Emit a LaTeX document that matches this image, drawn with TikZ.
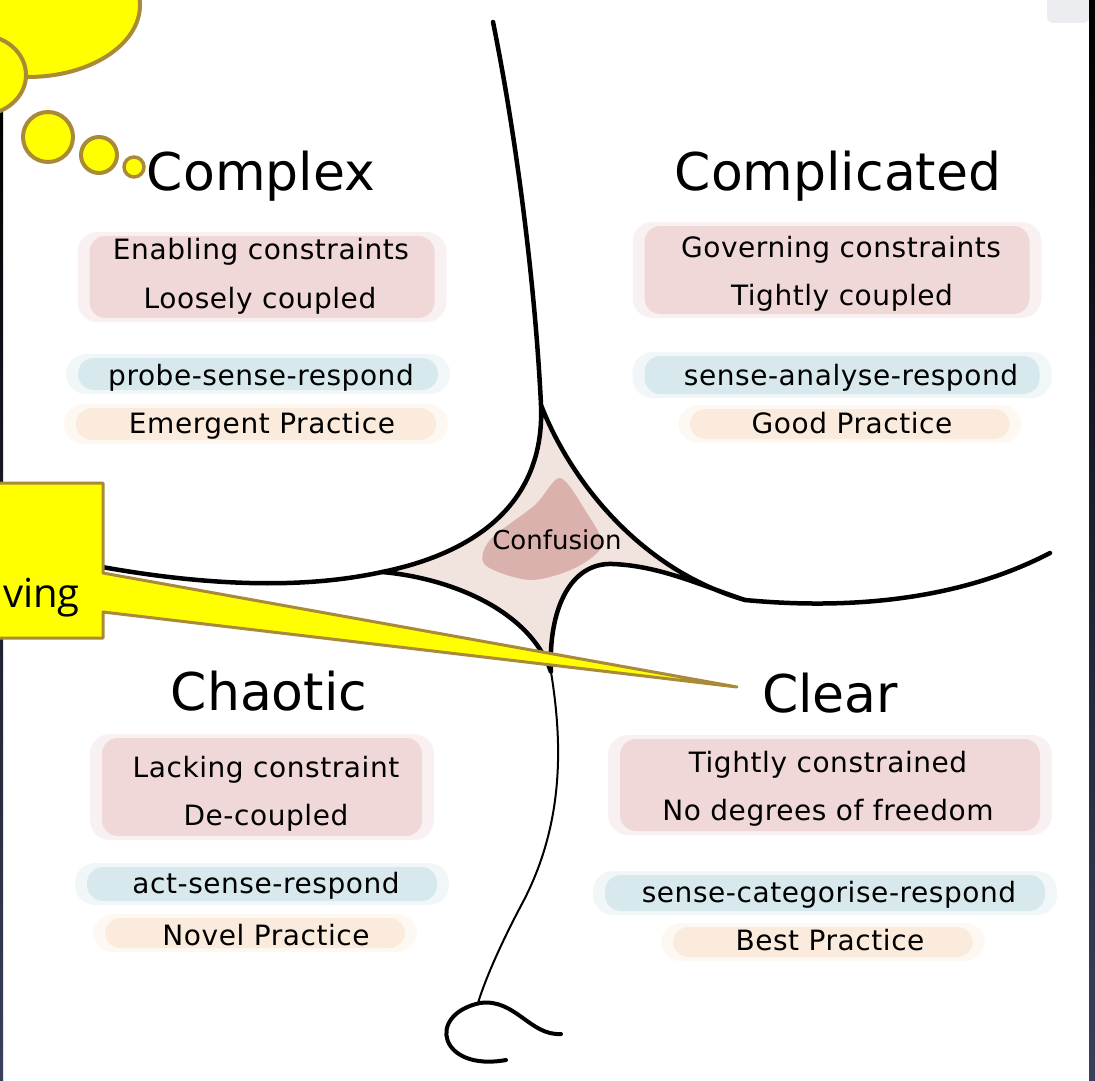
\documentclass[tikz,border=0pt]{standalone}
\usepackage{fontspec}
\setmainfont{DejaVu Sans}
\newfontfamily\washfont[LetterSpace=2]{DejaVu Sans}
\newfontfamily\calloutfont{Open Sans}
\usepackage{tikz}
\usetikzlibrary{calc}
\definecolor{bubbleyellow}{HTML}{FFFF00}
\definecolor{bubblegold}{HTML}{A88A38}
\definecolor{washpink}{HTML}{F0D8D8}
\definecolor{washblue}{HTML}{D7E9ED}
\definecolor{washpeach}{HTML}{FBEBDC}
\definecolor{fogbeige}{HTML}{F1E4DE}
\definecolor{fogrose}{HTML}{DBB1AE}
\definecolor{edgenavy}{HTML}{3B3F5C}
\definecolor{panelgray}{HTML}{ECEDF0}
\def\wash[#1](#2)(#3:#4){\fill[#1, opacity=0.35, rounded corners=20pt] ($(#2)-(#3/2+12,#4/2+4)$) rectangle ($(#2)+(#3/2+12,#4/2+4)$);
	\fill[#1, rounded corners=16pt] ($(#2)-(#3/2,#4/2)$) rectangle ($(#2)+(#3/2,#4/2)$);}
\tikzset{
	realmtitle/.style={font=\fontsize{52}{60}\selectfont, anchor=base, inner sep=0pt},
	realmline/.style={font=\washfont\fontsize{28}{32}\selectfont, anchor=base, inner sep=0pt},
	fold/.style={line width=4.5pt, line cap=round, line join=round},
	bubble/.style={fill=bubbleyellow, draw=bubblegold, line width=4pt}
}

\begin{document}
\begin{tikzpicture}[x=1pt, y=-1pt]
		%%%%% START %%%%%
		\useasboundingbox (0,0) rectangle (1095,1081);
		\clip (0,0) rectangle (1095,1081);
		\fill[white] (0,0) rectangle (1095,1081);
		
		% washes
		\wash[washpink](262,277)(345:82)
		\wash[washblue](258,374)(360:32)
		\wash[washpeach](256,424)(360:32)
		
		\wash[washpink](837,270)(385:88)
		\wash[washblue](842,375)(395:38)
		\wash[washpeach](850,424)(320:30)
		
		\wash[washpink](262,787)(320:98)
		\wash[washblue](262,884)(350:34)
		\wash[washpeach](255,933)(300:30)
		
		\wash[washpink](830,785)(420:92)
		\wash[washblue](825,893)(440:36)
		\wash[washpeach](823,942)(300:30)
		
		% confusion
		\coordinate (cusptop) at (541,405);
		\coordinate (cuspleft) at (382,572);
		\coordinate (cuspbottom) at (551,672);
		\coordinate (cuspright) at (745,600);
		\draw[fold, fill=fogbeige] (cusptop) .. controls (545,500) and (480,552) .. (cuspleft) .. controls (450,578) and (530,610) .. (cuspbottom) .. controls (548,610) and (570,562) .. (613,564) .. controls (660,566) and (700,585) .. (cuspright) .. controls (640,570) and (570,480) .. (cusptop);
		\fill[fogrose] plot[smooth cycle] coordinates {(560,478) (585,510) (602,545) (575,568) (530,580) (485,565) (490,540) (535,505)};
		\node[font=\fontsize{26}{30}\selectfont, anchor=base, inner sep=0pt] (confusion) at (557,549) {Confusion};
		
		% the four folds
		\draw[fold] (493,22) .. controls (515,130) and (535,280) .. (cusptop);
		\draw[fold] (cuspleft) .. controls (300,590) and (180,590) .. (0,545);
		\draw[fold] (cuspright) .. controls (850,610) and (960,600) .. (1050,553);
		\draw[line width=2pt, line cap=round] (cuspbottom) .. controls (562,740) and (565,820) .. (524,900) .. controls (500,945) and (485,980) .. (478,1003);
		\draw[fold, line width=4pt] (506,1060) .. controls (440,1072) and (425,1015) .. (480,1003) .. controls (515,998) and (530,1036) .. (561,1034);
		
		% complex
		\node[realmtitle] (complex) at (261,190) {Complex};
		\node[realmline] (complexA) at (261,259) {Enabling constraints};
		\node[realmline] (complexB) at (260,308) {Loosely coupled};
		\node[realmline] (complexC) at (261,385) {probe-sense-respond};
		\node[realmline] (complexD) at (262,433) {Emergent Practice};
		
		% complicated
		\node[realmtitle] (complicated) at (838,190) {Complicated};
		\node[realmline] (complicatedA) at (841,257) {Governing constraints};
		\node[realmline] (complicatedB) at (842,305) {Tightly coupled};
		\node[realmline] (complicatedC) at (851,385) {sense-analyse-respond};
		\node[realmline] (complicatedD) at (852,433) {Good Practice};
		
		% chaotic
		\node[realmtitle] (chaotic) at (269,710) {Chaotic};
		\node[realmline] (chaoticA) at (266,777) {Lacking constraint};
		\node[realmline] (chaoticB) at (266,825) {De-coupled};
		\node[realmline] (chaoticC) at (266,893) {act-sense-respond};
		\node[realmline] (chaoticD) at (266,945) {Novel Practice};
		
		% clear
		\node[realmtitle] (clear) at (830,712) {Clear};
		\node[realmline] (clearA) at (828,772) {Tightly constrained};
		\node[realmline] (clearB) at (828,820) {No degrees of freedom};
		\node[realmline] (clearC) at (829,902) {sense-categorise-respond};
		\node[realmline] (clearD) at (830,950) {Best Practice};
		
		% frame
		\fill[panelgray, rounded corners=6pt] (1047,-10) rectangle (1089,23);
		\shade[top color=black, bottom color=edgenavy] (0,108) rectangle (3,1081);
		\shade[top color=black, bottom color=edgenavy] (1089,0) rectangle (1095,1081);
		
		% callouts
		\draw[bubble, line width=3pt, line join=round] (-10,483) -- (103,483) -- (103,573) -- (737,687) -- (103,612) -- (103,638) -- (-10,638) -- cycle;
		\node[font=\calloutfont\fontsize{40}{46}\selectfont, anchor=base west, inner sep=0pt] (callouttext) at (3,607) {ving};
		
		\draw[bubble] (28,5) ellipse [x radius=112, y radius=72];
		\draw[bubble] (-20,75) ellipse [x radius=46, y radius=40];
		\draw[bubble] (48,137) circle [radius=25];
		\draw[bubble] (99,155) circle [radius=18];
		\draw[bubble, line width=3.5pt] (134,167) circle [radius=10];
		
		%%%%% END %%%%%
\end{tikzpicture}
\end{document}
